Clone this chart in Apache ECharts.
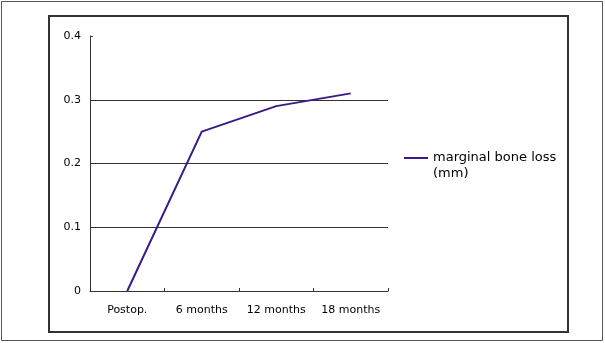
<!DOCTYPE html>
<html>
<head>
<meta charset="utf-8">
<script src="https://cdn.jsdelivr.net/npm/echarts@6/dist/echarts.min.js"></script>
<style>
html,body{margin:0;padding:0;background:#fff;}
#c{width:605px;height:343px;}
</style>
</head>
<body>
<div id="c"></div>
<script>
var categories = ['Postop.', '6 months', '12 months', '18 months'];
var seriesName = 'marginal bone loss\n(mm)';
var boneLoss = [0, 0.25, 0.29, 0.31];
var yTickLabels = {'0': '0', '0.1': '0.1', '0.2': '0.2', '0.3': '0.3', '0.4': '0.4'};

var chart = echarts.init(document.getElementById('c'), null, {renderer: 'canvas'});
var font = 'DejaVu Sans, Liberation Sans, Arial, sans-serif';
chart.setOption({
  animation: false,
  textStyle: {fontFamily: font},
  graphic: [
    {type: 'rect', shape: {x: 1.5, y: 1.5, width: 601, height: 339}, style: {fill: null, stroke: '#555', lineWidth: 1}, silent: true},
    {type: 'rect', shape: {x: 49, y: 16, width: 519, height: 316}, style: {fill: null, stroke: '#333', lineWidth: 2}, silent: true}
  ],
  grid: {left: 90, top: 36, right: 217, bottom: 52, containLabel: false},
  legend: {
    show: true,
    left: 404, top: 150,
    padding: 0,
    orient: 'vertical',
    icon: 'path://M0,0 M0,7 L24,7 L24,9 L0,9 Z M0,32',
    itemWidth: 24, itemHeight: 32,
    itemGap: 3,
    textStyle: {fontFamily: font, fontSize: 13, color: '#000', lineHeight: 16},
    data: [seriesName]
  },
  xAxis: {
    type: 'category',
    data: categories,
    boundaryGap: true,
    axisLine: {show: true, lineStyle: {color: '#333', width: 1}},
    axisTick: {show: true, inside: true, length: 3, interval: 0, lineStyle: {color: '#333'}},
    axisLabel: {color: '#000', fontSize: 11, fontFamily: font, margin: 14, interval: 0, hideOverlap: false},
    splitLine: {show: false}
  },
  yAxis: {
    type: 'value',
    min: 0, max: 0.4, interval: 0.1,
    axisLine: {show: true, lineStyle: {color: '#333', width: 1}},
    axisTick: {show: true, inside: true, length: 3, lineStyle: {color: '#333'}},
    axisLabel: {color: '#000', fontSize: 11, fontFamily: font, margin: 9,
      formatter: function (v) { var k = String(Math.round(v * 10) / 10); return yTickLabels[k] !== undefined ? yTickLabels[k] : k; }},
    splitLine: {show: true, showMinLine: false, showMaxLine: false, lineStyle: {color: '#333', width: 1}}
  },
  series: [{
    name: seriesName,
    type: 'line',
    data: boneLoss,
    symbol: 'none',
    lineStyle: {color: '#3a1a86', width: 2},
    itemStyle: {color: '#3a1a86'}
  }]
});
</script>
</body>
</html>
